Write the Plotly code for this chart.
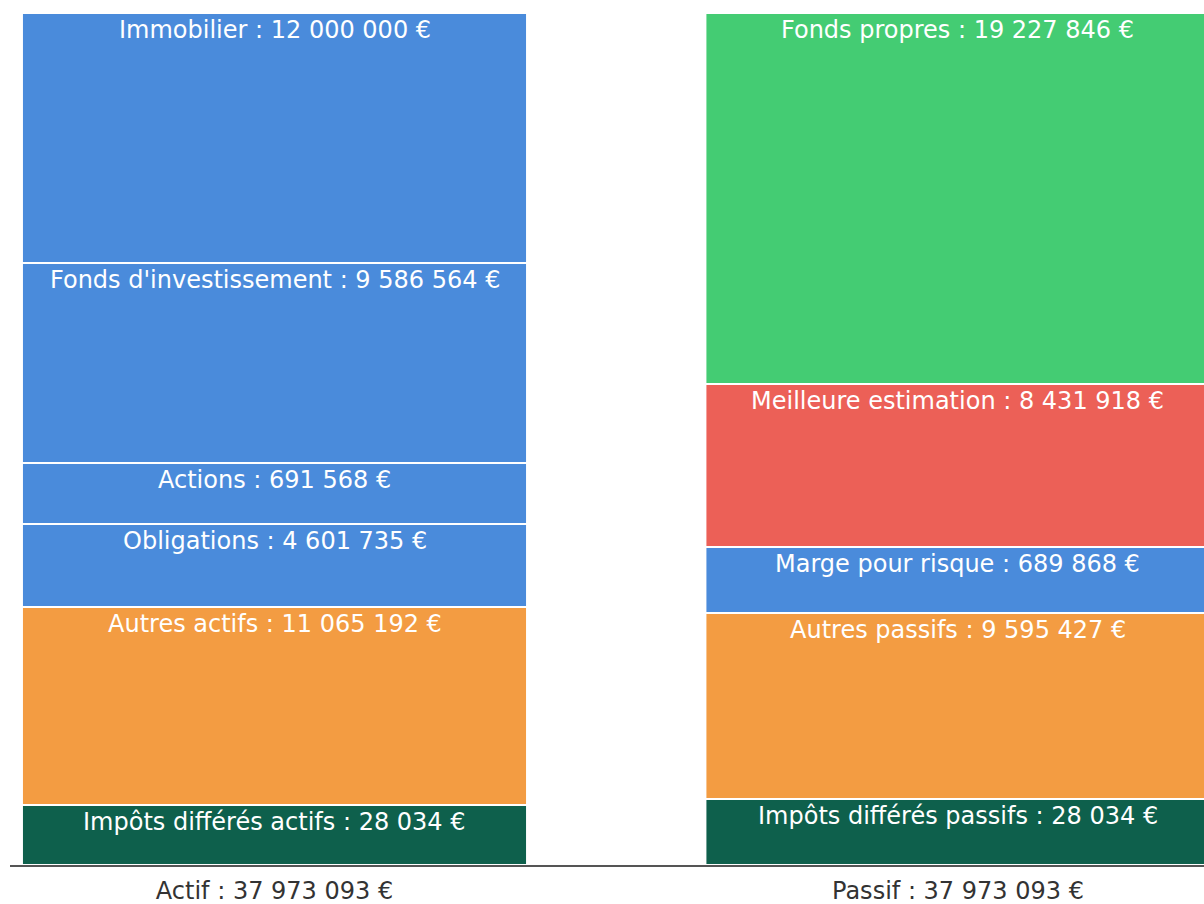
import plotly.graph_objects as go

# Categories (bars)
categories = ["Actif", "Passif"]
category_labels = ["Actif : 37 973 093 €", "Passif : 37 973 093 €"]

# Left bar (Actif) segments, bottom -> top
actif_names = ["Impôts différés actifs", "Autres actifs", "Obligations", "Actions",
               "Fonds d'investissement", "Immobilier"]
actif_amounts = ["28 034 €", "11 065 192 €", "4 601 735 €", "691 568 €",
                 "9 586 564 €", "12 000 000 €"]
# displayed segment heights (chart units)
actif_heights = [60, 198, 83, 61, 200, 250]
actif_colors = ["#0E604C", "#F39C42", "#4A8BDB", "#4A8BDB", "#4A8BDB", "#4A8BDB"]

# Right bar (Passif) segments, bottom -> top
passif_names = ["Impôts différés passifs", "Autres passifs", "Marge pour risque",
                "Meilleure estimation", "Fonds propres"]
passif_amounts = ["28 034 €", "9 595 427 €", "689 868 €", "8 431 918 €", "19 227 846 €"]
passif_heights = [66, 186, 66, 163, 371]
passif_colors = ["#0E604C", "#F39C42", "#4A8BDB", "#EC6057", "#44CC73"]

FONT = "DejaVu Sans, Liberation Sans, Arial, sans-serif"
BAR_W = 0.739

fig = go.Figure()
annotations = []

def add_stack(xpos, names, amounts, heights, colors):
    base = 0
    for n, a, h, c in zip(names, amounts, heights, colors):
        fig.add_trace(go.Bar(
            x=[xpos], y=[h], base=[base], width=BAR_W,
            marker=dict(color=c, line=dict(color="white", width=2)),
            name=n, showlegend=False, hoverinfo="skip",
        ))
        annotations.append(dict(
            x=xpos, y=base + h, xref="x", yref="y",
            text=f"{n} : {a}", showarrow=False,
            yanchor="top", xanchor="center", yshift=-1,
            font=dict(family=FONT, size=24, color="white"),
        ))
        base += h

add_stack(0, actif_names, actif_amounts, actif_heights, actif_colors)
add_stack(1, passif_names, passif_amounts, passif_heights, passif_colors)

fig.update_layout(
    width=1204, height=904,
    margin=dict(l=10, r=0, t=13, b=39),
    barmode="overlay",
    plot_bgcolor="white", paper_bgcolor="white",
    annotations=annotations,
    font=dict(family=FONT, size=24, color="#333333"),
)
fig.update_xaxes(
    range=[-0.387, 1.360],
    tickvals=[0, 1], ticktext=category_labels,
    showgrid=False, zeroline=False, automargin=False,
    showline=True, linecolor="#555555", linewidth=2,
    ticks="", ticklabelstandoff=3,
    tickfont=dict(family=FONT, size=24, color="#333333"),
)
fig.update_yaxes(range=[0, 852], visible=False, showgrid=False, zeroline=False,
                 automargin=False)

fig.write_html("out.html")
